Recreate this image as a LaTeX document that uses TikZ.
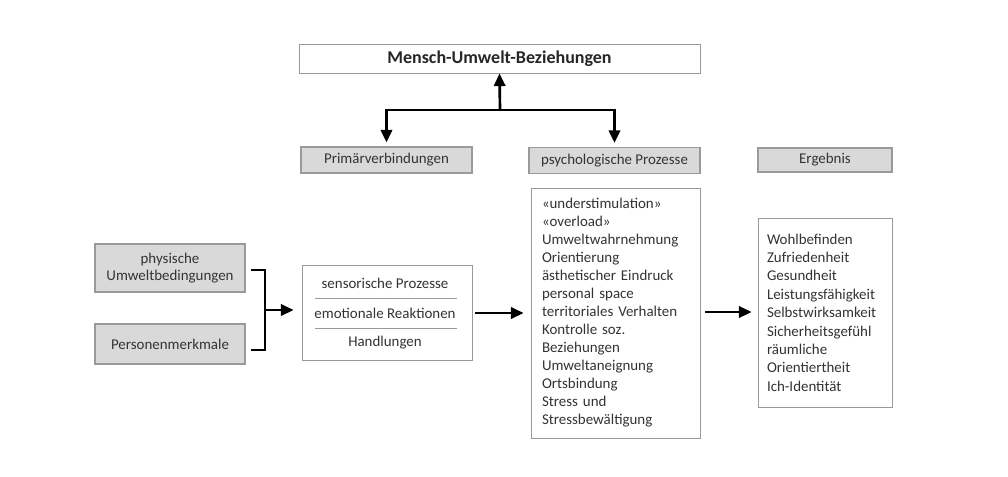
\documentclass[tikz,border=0pt]{standalone}
\usepackage{fontspec}
\setmainfont{Carlito}
\usetikzlibrary{arrows.meta}
\definecolor{boxgray}{HTML}{D9D9D9}
\definecolor{edgegray}{HTML}{9A9A9A}
\definecolor{txt}{HTML}{333333}
\begin{document}
\begin{tikzpicture}[x=0.75pt,y=-0.75pt,
  every node/.style={text=txt},
  graybox/.style={draw=edgegray,fill=boxgray,line width=0.8pt,inner sep=0pt,font=\fontsize{11.2}{13}\selectfont,align=center},
  whitebox/.style={draw=edgegray,fill=white,line width=0.6pt,inner sep=0pt},
  midtext/.style={font=\fontsize{11.2}{13}\selectfont},
  conn/.style={line width=2pt,draw=black},
  arr/.style={conn,-{Triangle[length=9.5pt,width=8.5pt]}}]
\useasboundingbox (0,0) rectangle (1008,476);
% title
\node[whitebox,minimum width=401*0.75pt,minimum height=29*0.75pt,font=\bfseries\fontsize{13.5}{15}\selectfont,text=black!85] (title) at (499.5,58.5) {Mensch-Umwelt-Beziehungen};
% headers
\node[graybox,minimum width=171*0.75pt,minimum height=26*0.75pt] (prim) at (386.5,160) {Primärverbindungen};
\node[graybox,minimum width=171*0.75pt,minimum height=26*0.75pt] (psyh) at (614.5,160.5) {psychologische Prozesse};
\node[graybox,minimum width=134*0.75pt,minimum height=24*0.75pt] (erg) at (825,160) {Ergebnis};
% connectors top
\coordinate (j) at (500,110);
\draw[arr] (j) -- (title.south);
\draw[arr,shorten >=4*0.75pt] (j) -| (prim.north);
\draw[arr,shorten >=4*0.75pt] (j) -| (psyh.north);
% left boxes
\node[graybox,minimum width=150*0.75pt,minimum height=48*0.75pt] (phys) at (170,268) {physische\\Umweltbedingungen};
\node[graybox,minimum width=150*0.75pt,minimum height=40*0.75pt] (pers) at (170,344) {Personenmerkmale};
% middle box
\node[whitebox,minimum width=170*0.75pt,minimum height=95*0.75pt] (mid) at (387,312.5) {};
\node[midtext] (s1) at (385,283) {sensorische Prozesse};
\node[midtext] (s2) at (385,313) {emotionale Reaktionen};
\node[midtext] (s3) at (385,343) {Handlungen};
\draw[edgegray,line width=0.6pt] (315,298) -- (457,298);
\draw[edgegray,line width=0.6pt] (315,328) -- (457,328);
% bracket
\coordinate (b1) at (251,270);
\coordinate (b2) at (251,350);
\coordinate (bm) at (265,310);
\draw[conn] (b1) -| (bm) |- (b2);
\draw[arr,shorten >=8*0.75pt] (bm) -- (bm -| mid.west);
% psych box
\node[whitebox,minimum width=169*0.75pt,minimum height=250*0.75pt,text width=147*0.75pt,inner xsep=11*0.75pt,align=left,font=\fontsize{11.2}{13.5}\selectfont] (psy) at (615.5,313) {«understimulation»\\«overload»\\Umweltwahrnehmung\\Orientierung\\ästhetischer Eindruck\\personal space\\territoriales Verhalten\\Kontrolle soz.\\Beziehungen\\Umweltaneignung\\Ortsbindung\\Stress und\\Stressbewältigung};
% result box
\node[whitebox,minimum width=134*0.75pt,minimum height=189*0.75pt,text width=116*0.75pt,inner xsep=9*0.75pt,align=left,font=\fontsize{11.2}{13.8}\selectfont] (res) at (825,312.5) {Wohlbefinden\\Zufriedenheit\\Gesundheit\\Leistungsfähigkeit\\Selbstwirksamkeit\\Sicherheitsgefühl\\räumliche\\Orientiertheit\\Ich-Identität};
% arrows
\coordinate (a1) at (475,313);
\coordinate (a2) at (705,312);
\draw[arr,shorten >=7*0.75pt] (a1) -- (a1 -| psy.west);
\draw[arr,shorten >=6*0.75pt] (a2) -- (a2 -| res.west);
\end{tikzpicture}
\end{document}
